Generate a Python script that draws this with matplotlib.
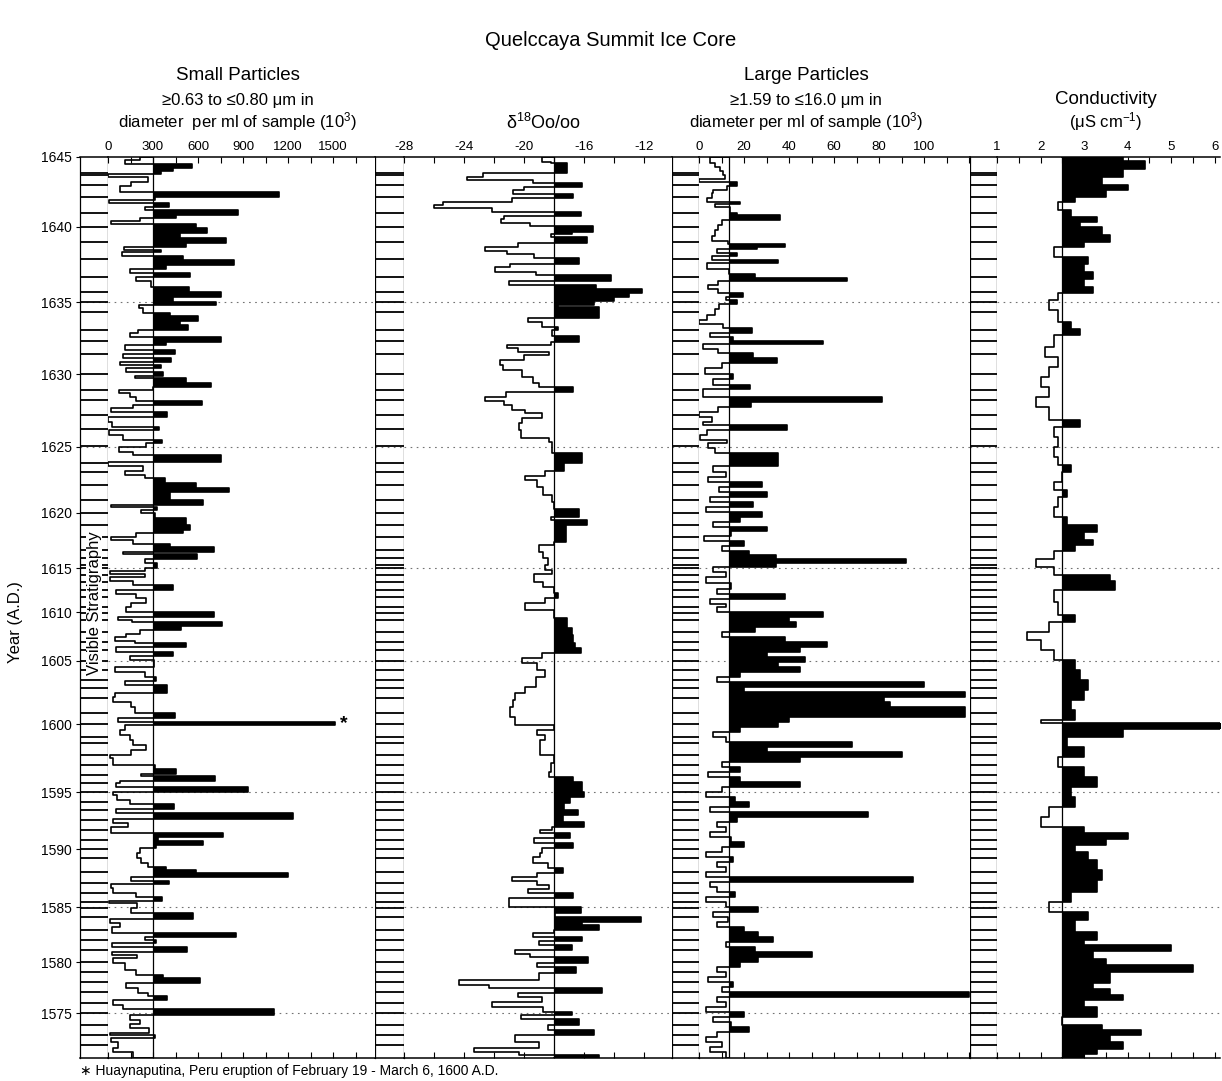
import numpy as np
import matplotlib.pyplot as plt
from matplotlib.ticker import MultipleLocator, FixedLocator

plt.rcParams['font.family'] = ['Liberation Sans', 'DejaVu Sans']
plt.rcParams['mathtext.fontset'] = 'custom'
plt.rcParams['mathtext.rm'] = 'Liberation Sans'
plt.rcParams['mathtext.it'] = 'Liberation Sans:italic'
plt.rcParams['mathtext.default'] = 'regular'
plt.rcParams['axes.unicode_minus'] = False

# depth down the core, arbitrary units, 0 = top of the section shown
depth_bottom = 90.1

tick_years = [1645, 1640, 1635, 1630, 1625, 1620, 1615, 1610, 1605, 1600,
              1595, 1590, 1585, 1580, 1575]
tick_depth = [0.0, 7.0, 14.5, 21.7, 29.0, 35.6, 41.1, 45.5, 50.4, 56.7,
              63.5, 69.2, 75.0, 80.5, 85.6]
marked_years = [1635, 1625, 1615, 1605, 1595, 1585, 1575]

# visible annual layers (same in every stratigraphy column)
layer_depth = [1.6, 1.8, 2.8, 4.0, 5.6, 7.0, 8.5, 10.2, 12.0, 13.5, 14.5, 15.5,
               17.3, 18.4, 19.7, 21.7, 23.3, 24.3, 25.8, 27.2, 28.9,
               30.6, 31.5, 32.8, 34.3, 35.6, 36.8, 38.0, 39.3, 40.1, 40.8, 41.1,
               41.8, 42.5, 43.3, 44.0, 45.0, 45.6, 46.3, 47.5, 48.5, 49.3, 50.4,
               51.3, 52.3, 53.1, 54.1, 55.6, 56.7, 58.0, 58.6, 59.8,
               60.8, 61.8, 62.6, 63.5, 64.5, 65.3, 66.3, 67.3, 68.3, 69.2, 70.1,
               71.5, 72.6, 73.6, 74.5, 75.1, 76.0, 77.3, 78.3, 79.3, 80.5, 81.5,
               82.5, 83.5, 84.6, 85.6, 86.8, 87.8, 88.8]

# small particles (10^3 per ml), sample top depth and value
small_depth = [0.0, 0.3, 0.7, 1.1, 1.4, 1.7, 2.0, 2.5, 2.9, 3.5, 4.0, 4.3, 4.6, 5.0,
               5.3, 5.8, 6.1, 6.4, 6.7, 7.1, 7.6, 8.1, 8.6, 9.0, 9.3, 9.5, 9.9,
               10.3, 10.8, 11.2, 11.6, 12.0, 12.4, 13.0, 13.5, 14.0, 14.5, 14.8,
               15.1, 15.6, 15.9, 16.4, 16.8, 17.3, 17.6, 18.0, 18.5, 18.8, 19.3,
               19.7, 20.1, 20.5, 20.8, 21.1, 21.5, 21.9, 22.1, 22.6, 23.0, 23.3,
               23.6, 24.0, 24.4, 24.8, 25.1, 25.5, 26.0, 26.5, 27.0, 27.3, 27.8,
               28.3, 28.6, 29.0, 29.5, 29.8,
               30.5, 30.9, 31.4, 31.8, 32.1, 32.6, 33.1, 33.5, 34.3, 34.8, 35.0,
               35.3, 35.6, 36.1, 36.8, 37.3, 37.6, 38.0, 38.3, 38.7, 39.0, 39.5,
               39.7, 40.2, 40.6, 41.1, 41.4, 41.7, 42.0, 42.4, 42.8, 43.3, 43.7,
               44.1, 44.6, 45.0, 45.5, 46.0, 46.3, 46.5, 46.9, 47.3, 47.7, 48.0,
               48.4, 48.6, 49.0, 49.5, 49.9, 50.3, 51.0, 51.5, 52.0, 52.4, 52.8,
               53.6, 54.0, 54.5, 55.0, 55.6, 56.1, 56.5, 56.8, 57.3, 57.8, 58.3,
               58.8, 59.3, 59.8,
               60.1, 60.8, 61.2, 61.7, 61.9, 62.4, 62.6, 63.0, 63.5, 63.8, 64.3,
               64.7, 65.2, 65.6, 66.2, 66.6, 67.0, 67.6, 68.0, 68.4, 68.8, 69.1,
               69.6, 70.1, 70.6, 71.0, 71.3, 71.6, 72.0, 72.4, 72.7, 73.1, 73.6,
               74.0, 74.4, 74.6, 75.1, 75.6, 76.2, 76.6, 77.0, 77.6, 78.0, 78.3,
               78.6, 79.0, 79.5, 79.8, 80.1, 80.6, 81.3, 81.8, 82.1, 82.6, 83.1,
               83.6, 83.9, 84.3, 84.8, 85.2, 85.8, 86.3, 86.7, 87.1, 87.6, 87.8,
               88.1, 88.5, 89.1, 89.5]
small_val = [211, 111, 562, 433, 355, 0, 267, 155, 82, 1140, 311, 7, 407, 244,
             867, 455, 211, 22, 589, 660, 478, 784, 522, 104, 355, 96, 500,
             838, 389, 144, 549, 189, 289, 540, 756, 433, 718, 207,
             233, 411, 600, 478, 533, 200, 144, 756, 389, 111, 444,
             100, 422, 78, 355, 122, 367, 178, 522, 689, 300, 73,
             144, 189, 629, 167, 22, 393, 0, 29, 340, 7, 100,
             362, 256, 73, 167, 756,
             0, 233, 111, 244, 378, 589, 807, 411, 633, 22, 327,
             222, 311, 518, 544, 500, 189, 22, 167, 416, 707, 100,
             593, 244, 327, 244, 11, 244, 11, 167, 433, 56, 189,
             256, 155, 122, 704, 67, 162, 762, 489, 211, 122, 44,
             178, 518, 51, 433, 144, 304, 44, 244, 318, 111, 396,
             44, 33, 155, 178, 449, 67, 1511, 111, 78, 144, 167,
             251, 155, 11,
             33, 311, 455, 222, 711, 78, 56, 933, 33, 60, 144,
             440, 56, 1233, 33, 133, 22, 767, 333, 633, 322, 211,
             193, 222, 267, 389, 589, 1200, 155, 407, 22, 33, 189,
             362, 7, 193, 155, 567, 11, 78, 29, 856, 244, 322,
             29, 527, 29, 193, 33, 111, 189, 367, 611, 122, 200,
             267, 393, 33, 100, 1104, 144, 211, 144, 273, 11, 311,
             22, 67, 33, 167]
small_base = 300

# delta 18O (per mil)
d18o_depth = [0.0, 0.5, 0.6, 1.6, 2.0, 2.3, 2.6, 3.0, 3.3, 3.7, 4.1, 4.5, 4.8, 5.1,
              5.5, 5.9, 6.2, 6.6, 6.9, 7.5, 7.7, 8.0, 8.6, 9.0, 9.4, 9.7, 10.1,
              10.7, 11.0, 11.5, 11.8, 12.4, 12.8, 13.2, 13.6, 14.0, 14.4, 14.8,
              15.0, 16.1, 16.5, 17.0, 17.3, 17.9, 18.5, 18.8, 19.1, 19.5, 19.8,
              20.3, 20.8, 21.3, 22.0, 22.6, 23.0, 23.5, 24.0, 24.4, 24.8, 25.3,
              25.6, 26.1, 26.6,
              27.3, 28.1, 28.5, 29.6, 30.6, 31.4, 31.9, 32.3, 33.0, 33.8, 34.5,
              35.2, 36.0, 36.3, 36.8, 38.5, 38.8, 39.5, 40.1, 40.8, 41.3, 41.7,
              42.5, 43.0, 43.6, 44.1, 44.6, 45.3, 46.1, 47.1, 47.8, 48.6, 49.1,
              49.6, 50.1, 50.6, 51.3, 52.0, 53.0, 53.6, 54.3, 55.0, 56.0, 56.8,
              57.3, 57.8, 58.3,
              59.3, 59.8, 60.6, 61.5, 62.0, 62.5, 63.5, 64.0, 64.6, 65.3, 65.8,
              66.5, 67.0, 67.3, 67.6, 68.1, 68.6, 69.1, 69.6, 70.0, 70.6, 71.1,
              71.6, 72.0, 72.4, 72.8, 73.2, 73.6, 74.1, 74.6, 75.0, 75.6, 76.0,
              76.5, 76.8, 77.3, 77.6, 78.0, 78.4, 78.8, 79.3, 79.7, 80.0, 80.6,
              81.0, 81.6, 82.3, 82.8, 83.1, 83.6, 84.0, 84.5, 85.0, 85.5, 85.8,
              86.2, 86.8, 87.3, 87.8, 88.5, 89.1, 89.5, 89.8]
d18o_val = [-18.8, -18.2, -17.1, -22.7, -23.8, -19.4, -16.1, -20.0, -20.7, -16.7,
            -20.8, -25.4, -26.0, -22.1, -16.2, -21.3, -21.5, -19.6, -15.4, -16.8,
            -18.2, -15.8, -20.4, -22.6, -21.1, -19.3, -16.3, -20.9, -21.9, -19.2,
            -14.2, -21.0, -15.2, -12.1, -13.0, -14.0, -15.3, -17.7, -15.0, -19.7,
            -18.8, -17.7, -18.1, -16.3, -18.2, -21.1, -20.4, -18.3, -20.0, -21.6,
            -21.4, -20.1, -19.4, -19.0, -16.7, -21.2, -22.6, -21.3, -20.8, -19.9,
            -18.8, -20.1, -20.3,
            -20.2, -18.3, -18.1, -16.1, -17.3, -18.6, -19.9, -19.1, -18.7, -18.1,
            -18.0, -16.3, -18.2, -15.8, -17.2, -18.0, -19.0, -18.7, -18.4, -18.6,
            -18.1, -19.3, -18.7, -18.0, -17.7, -18.6, -19.9, -18.0, -17.1, -16.8,
            -16.7, -16.6, -16.2, -18.8, -20.1, -19.1, -18.6, -19.2, -19.9, -20.6,
            -20.7, -20.9, -20.6, -18.0, -19.1, -18.6, -18.9,
            -18.9, -18.0, -18.2, -18.3, -16.7, -16.1, -16.0, -16.9, -17.3, -16.4,
            -17.4, -16.0, -18.1, -18.9, -16.9, -19.3, -16.7, -18.8, -18.9, -19.4,
            -18.4, -17.4, -19.1, -20.8, -19.1, -18.3, -19.7, -16.7, -21.0, -21.0,
            -16.2, -17.9, -12.2, -16.1, -15.0, -18.0, -19.4, -16.1, -19.0, -16.8,
            -20.6, -19.6, -15.7, -19.1, -16.5, -19.0, -24.3, -22.3, -14.8, -20.4,
            -18.8, -22.1, -18.7, -16.8, -20.2, -16.3, -18.4, -15.3, -20.6, -19.0,
            -23.3, -20.3, -15.0]
d18o_base = -18.0

# large particles (10^3 per ml)
large_depth = [0.0, 0.6, 1.0, 1.4, 1.8, 2.2, 2.5, 2.9, 3.3, 3.6, 4.1, 4.5, 4.7, 5.0,
               5.6, 5.8, 6.3, 6.8, 7.3, 7.9, 8.4, 8.7, 9.0, 9.2, 9.6, 9.9, 10.3,
               10.6, 11.2, 11.7, 12.1, 12.4, 12.8, 13.2, 13.6, 14.0, 14.3, 14.7,
               15.2, 15.8, 16.3, 16.7, 17.1, 17.6, 18.0, 18.4, 18.7, 19.2, 19.6,
               20.1, 20.6, 21.1, 21.7, 22.2, 22.8, 23.2, 24.0, 24.5, 25.0, 25.5,
               26.0, 26.5, 26.8, 27.3, 27.8, 28.3, 28.6, 29.1, 29.6,
               30.3, 30.9, 31.5, 32.0, 32.5, 33.0, 33.5, 34.0, 34.5, 35.0, 35.5,
               36.0, 36.5, 37.0, 37.4, 37.9, 38.4, 38.9, 39.4, 39.8, 40.2, 40.6,
               41.0, 41.5, 42.0, 42.6, 43.2, 43.7, 44.2, 44.7,
               45.0, 45.5, 46.0, 46.5,
               47.0, 47.5, 48.0, 48.5, 49.0, 49.5, 50.0, 50.5, 51.0, 51.5, 52.0,
               52.5, 53.0, 53.5, 54.0, 54.5, 55.0, 55.5, 56.0, 56.5, 57.0, 57.5,
               58.0, 58.5, 59.0, 59.5, 60.0, 60.5, 61.0, 61.5, 62.0, 62.5, 63.0,
               63.5, 64.0, 64.5, 65.0, 65.5, 66.0, 66.5, 67.0, 67.5, 68.0, 68.5,
               69.0, 69.5, 70.0, 70.5, 71.0, 71.5, 72.0, 72.5, 73.0, 73.5, 74.0,
               74.5, 75.0, 75.5, 76.0, 76.5, 77.0, 77.5, 78.0, 78.5, 79.0, 79.5,
               80.0, 80.5, 81.0, 81.5, 82.0, 82.5, 83.0, 83.5, 84.0, 84.5, 85.0,
               85.5, 86.0, 86.5, 87.0, 87.5, 88.0, 88.5, 89.0, 89.5]
large_val = [4.9, 7.1, 9.3, 10.8, 11.6, 0.1, 17.0, 12.3, 6.1, 5.6, 3.4, 18.2, 7.1,
             13.8, 17.0, 36.0, 10.1, 8.6, 7.1, 5.6, 13.0, 38.2, 25.6, 7.9, 16.7,
             5.6, 35.3, 3.4, 13.5, 24.9, 65.6, 8.6, 4.1, 8.6, 19.7, 12.0, 17.0,
             9.0, 7.1, 3.4, 0.1, 10.8, 23.4, 4.9, 15.3, 55.0, 1.9, 8.6, 24.1,
             34.8, 10.1, 2.7, 15.0, 6.4, 22.7, 1.9, 81.2, 23.0, 8.6, 0.1, 5.6,
             1.9, 39.3, 3.4, 0.4, 12.3, 4.1, 7.1, 35.3,
             35, 6, 12, 4, 28, 9, 30, 5, 24, 3, 28, 18, 6, 30, 14, 2, 20, 10, 22,
             34, 92, 34, 6, 12, 3, 14, 8, 38, 5, 12,
             8, 55, 40, 43, 25, 10, 38, 57,
             45, 30, 47, 35, 45, 18, 8, 100, 20, 118, 82, 85, 118, 118, 40, 35,
             18, 6, 12, 68, 30, 90, 45, 10, 18, 4, 18, 45, 10, 3, 16, 22, 5, 75,
             17, 8, 12, 5, 14, 20, 10, 3, 15, 8, 12, 3, 95, 5, 8, 16, 3, 12, 26,
             6, 13, 8, 20, 26, 33, 12, 25, 50, 26, 18, 8, 12, 4, 15, 10, 120, 8,
             12, 3, 20, 6, 14, 22, 8, 3, 10, 5, 12]
large_base = 13.5

# conductivity (uS/cm)
cond_depth = [0.0, 0.4, 1.2, 2.0, 2.8, 3.3, 4.0, 4.5, 5.3, 6.0, 6.5, 7.0, 7.8, 8.5,
              9.0, 10.0, 10.7, 11.5, 12.2, 13.0, 13.6, 14.3, 15.3, 16.5, 17.2,
              17.8, 19.0, 20.0, 21.0, 22.0, 23.0, 24.0, 25.0, 26.3, 27.0, 28.0,
              29.0, 30.0, 30.8, 31.5, 32.5, 33.3, 34.0, 35.0, 36.0, 36.8, 37.5,
              38.3, 38.8, 39.4, 40.2, 41.0, 41.8, 42.4, 43.3, 44.5, 45.8, 46.5,
              47.5, 48.3, 49.3, 50.3, 51.3, 52.3, 53.3, 54.3, 55.3, 56.3, 56.6,
              57.2, 58.0, 59.0, 60.0, 61.0, 62.0, 63.0, 64.0, 65.0, 66.0, 67.0,
              67.6, 68.2, 68.8, 69.5, 70.3, 71.3, 72.3, 73.5, 74.5, 75.5, 76.3,
              77.5, 78.3, 78.8, 79.4, 80.2, 80.8, 81.5, 82.6, 83.2, 83.8, 84.3,
              85.0, 86.0, 86.8, 87.3, 87.8, 88.5, 89.2, 89.7]
cond_val = [3.9, 4.4, 3.9, 3.4, 4.0, 3.5, 2.8, 2.4, 2.7, 3.3, 2.9, 3.4, 3.6, 3.0,
            2.3, 3.1, 3.0, 3.2, 3.0, 3.2, 2.4, 2.2, 2.4, 2.7, 2.9, 2.3, 2.1, 2.4,
            2.2, 2.0, 2.2, 1.9, 2.2, 2.9, 2.3, 2.4, 2.3, 2.4, 2.7, 2.5, 2.3, 2.6,
            2.4, 2.3, 2.6, 3.3, 3.0, 3.2, 2.8, 2.3, 1.9, 2.3, 3.6, 3.7, 2.3, 2.4,
            2.8, 2.2, 1.7, 2.0, 2.3, 2.8, 2.9, 3.1, 3.0, 2.7, 2.8, 2.0, 6.2, 3.9,
            2.6, 3.0, 2.4, 3.0, 3.3, 2.7, 2.8, 2.2, 2.0, 3.0, 4.0, 3.5, 2.8, 3.1,
            3.3, 3.4, 3.3, 2.7, 2.2, 3.1, 2.8, 3.3, 3.0, 5.0, 3.2, 3.5, 5.5, 3.6,
            3.2, 3.6, 3.9, 3.0, 3.3, 2.5, 3.4, 4.3, 3.6, 3.9, 3.3, 3.0]
cond_base = 2.5

W, H = 1222, 1081
fig = plt.figure(figsize=(W / 100, H / 100), dpi=100)
top_px, bot_px = 157, 1058


def add_panel(x0, x1):
    return fig.add_axes([x0 / W, 1 - bot_px / H, (x1 - x0) / W, (bot_px - top_px) / H])


def step_xy(depth, val, base):
    edges = np.append(depth, depth_bottom)
    ys = np.repeat(edges, 2)[1:-1]
    xs = np.repeat(np.asarray(val, float), 2)
    xs = np.concatenate([[base], xs, [base]])
    ys = np.concatenate([[edges[0]], ys, [edges[-1]]])
    return xs, ys


def draw_profile(ax, depth, val, base):
    xs, ys = step_xy(depth, val, base)
    ax.fill_betweenx(ys, base, np.maximum(xs, base), color='black', lw=0, zorder=3)
    ax.plot(xs, ys, color='black', lw=1.2, zorder=4)
    ax.axvline(base, color='black', lw=0.9, zorder=4)


marked_depth = [tick_depth[tick_years.index(y)] for y in marked_years]


def common(ax):
    ax.set_ylim(depth_bottom, 0)
    for d in marked_depth:
        ax.axhline(d, color='0.45', lw=0.8, ls=(0, (1.5, 4)), zorder=1)
    for s in ['top', 'bottom']:
        ax.spines[s].set_linewidth(1.1)


strat_cols = [(80, 108), (375, 404), (672, 699), (970, 997)]
strat_axes = []
for x0, x1 in strat_cols:
    ax = add_panel(x0, x1)
    common(ax)
    ax.set_xlim(0, 1)
    ax.hlines(layer_depth, 0, 1, color='black', lw=1.3, zorder=2)
    for s in ['left', 'right']:
        ax.spines[s].set_linestyle((0, (1, 1)))
        ax.spines[s].set_linewidth(0.9)
    ax.set_xticks([])
    ax.tick_params(axis='y', left=False, labelleft=False)
    strat_axes.append(ax)

ax_y = strat_axes[0]
ax_y.set_yticks(tick_depth)
ax_y.set_yticklabels([str(y) for y in tick_years])
ax_y.tick_params(axis='y', left=True, labelleft=True, direction='out', length=3,
                 labelsize=10, pad=3)
ax_y.text(0.5, 44.6, 'Visible Stratigraphy', rotation=90, ha='center', va='center',
          fontsize=12, transform=ax_y.get_yaxis_transform(), zorder=5,
          bbox=dict(facecolor='white', edgecolor='none', pad=0.5))

panels = [
    ((108, 375), (0, 1780), small_depth, small_val, small_base,
     np.arange(0, 1501, 300), 150),
    ((404, 672), (-28, -10.13), d18o_depth, d18o_val, d18o_base,
     np.arange(-28, -11, 4), 2),
    ((699, 970), (0, 120.4), large_depth, large_val, large_base,
     np.arange(0, 101, 20), 10),
    ((997, 1220), (1, 6.12), cond_depth, cond_val, cond_base,
     np.arange(1, 7, 1), 0.5),
]
data_axes = []
for (x0, x1), xlim, dep, val, base, majors, minor in panels:
    ax = add_panel(x0, x1)
    common(ax)
    ax.set_xlim(*xlim)
    draw_profile(ax, dep, val, base)
    ax.spines['left'].set_visible(False)
    ax.spines['right'].set_visible(False)
    ax.set_yticks([])
    ax.xaxis.set_major_locator(FixedLocator(majors))
    ax.xaxis.set_minor_locator(MultipleLocator(minor))
    ax.xaxis.tick_top()
    ax.tick_params(axis='x', which='both', direction='in', top=True, bottom=True,
                   length=4, width=0.8, labelsize=9.5, pad=3)
    ax.set_xticklabels([f'{m:g}' for m in majors])
    data_axes.append(ax)

# eruption marker on the small particle peak
ax_small = data_axes[0]
i_peak = int(np.argmax(small_val))
d_peak = 0.5 * (small_depth[i_peak] + small_depth[i_peak + 1])
ax_small.annotate('*', (small_val[i_peak], d_peak), xytext=(4, 0),
                  textcoords='offset points', ha='left', va='center',
                  fontsize=14, fontweight='bold')


def ftext(x, y, s, **kw):
    fig.text(x / W, 1 - y / H, s, ha='center', va='center', **kw)


ftext(611, 40, 'Quelccaya Summit Ice Core', fontsize=14.5)
ftext(238, 76, 'Small Particles', fontsize=13.5)
ftext(238, 100, '≥0.63 to ≤0.80 μm in', fontsize=12)
ftext(238, 122, 'diameter  per ml of sample (10$^3$)', fontsize=12)
ftext(543, 123, r'$\delta^{18}$Oo/oo', fontsize=13)
ftext(806, 76, 'Large Particles', fontsize=13.5)
ftext(806, 100, '≥1.59 to ≤16.0 μm in', fontsize=12)
ftext(806, 122, 'diameter per ml of sample (10$^3$)', fontsize=12)
ftext(1106, 100, 'Conductivity', fontsize=13.5)
ftext(1106, 122, '(μS cm$^{-1}$)', fontsize=12)
ftext(16, 622, 'Year (A.D.)', fontsize=12, rotation=90)
fig.text(80 / W, 1 - 1071 / H, '∗ Huaynaputina, Peru eruption of February 19 - March 6, 1600 A.D.',
         ha='left', va='center', fontsize=10)

fig.savefig('out.png', dpi=100)
